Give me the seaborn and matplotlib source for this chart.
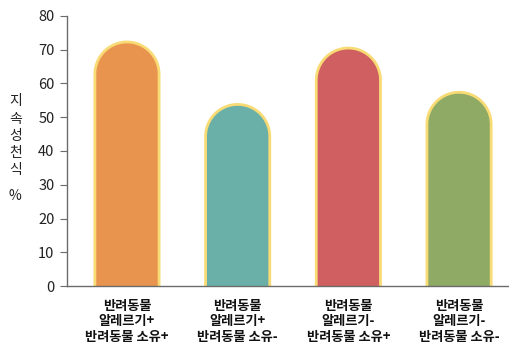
import numpy as np
import pandas as pd
import seaborn as sns
import matplotlib.pyplot as plt
from matplotlib.patches import Polygon

# data
categories = ['반려동물\n알레르기+\n반려동물 소유+', '반려동물\n알레르기+\n반려동물 소유-',
              '반려동물\n알레르기-\n반려동물 소유+', '반려동물\n알레르기-\n반려동물 소유-']
values = [72.3, 53.8, 70.5, 57.4]
colors = ['#E8944F', '#6AB0A8', '#CF5F60', '#8FAA64']
yticks = [0, 10, 20, 30, 40, 50, 60, 70, 80]

sns.set_style('white')
plt.rcParams['font.family'] = ['Noto Sans CJK KR', 'DejaVu Sans']

df = pd.DataFrame({'group': categories, 'value': values})

fig = plt.figure(figsize=(5.09, 3.44), dpi=100)
ax = fig.add_axes([0.1316, 0.1686, 0.8664, 0.7849])
sns.barplot(data=df, x='group', y='value', hue='group', palette=colors,
            saturation=1, width=0.58, legend=False, ax=ax)

ax.set_ylim(0, 80)
ax.set_xlim(-0.542, 3.442)
ax.set_yticks(yticks)
ax.set_xlabel('')
ax.set_ylabel('')

# swap plain bars for bars with a half-round top
fig.canvas.draw()
sx = ax.transData.transform((1, 0))[0] - ax.transData.transform((0, 0))[0]
sy = ax.transData.transform((0, 1))[1] - ax.transData.transform((0, 0))[1]
for p in list(ax.patches):
    x0, w, h = p.get_x(), p.get_width(), p.get_height()
    fc = p.get_facecolor()
    p.remove()
    rx = w / 2
    ry = rx * sx / sy
    t = np.linspace(0, np.pi, 60)
    arc = np.column_stack([x0 + rx + rx * np.cos(t), h - ry + ry * np.sin(t)])
    pts = np.vstack([[x0 + w, -1], arc, [x0, -1]])
    ax.add_patch(Polygon(pts, closed=True, facecolor=fc, edgecolor='#F8DB74',
                         linewidth=2.0, zorder=2))

for s in ['top', 'right']:
    ax.spines[s].set_visible(False)
for s in ['left', 'bottom']:
    ax.spines[s].set_color('#6b6b6b')
    ax.spines[s].set_linewidth(1.0)
    ax.spines[s].set_zorder(3)

ax.tick_params(axis='y', left=True, length=5, width=0.8, color='#6b6b6b',
               labelsize=10.5, labelcolor='#222222', pad=4)
ax.tick_params(axis='x', bottom=False, length=0, pad=9)
for lab in ax.get_xticklabels():
    lab.set_fontsize(9.5)
    lab.set_fontweight('bold')
    lab.set_color('#111111')
    lab.set_linespacing(1.15)

# stacked y label
fig.text(0.03, 0.605, '지\n속\n성\n천\n식', ha='center', va='center',
         fontsize=10, color='#222222', linespacing=1.3)
fig.text(0.03, 0.430, '%', ha='center', va='center',
         fontsize=10, color='#222222')

plt.savefig('out.png', dpi=100)
